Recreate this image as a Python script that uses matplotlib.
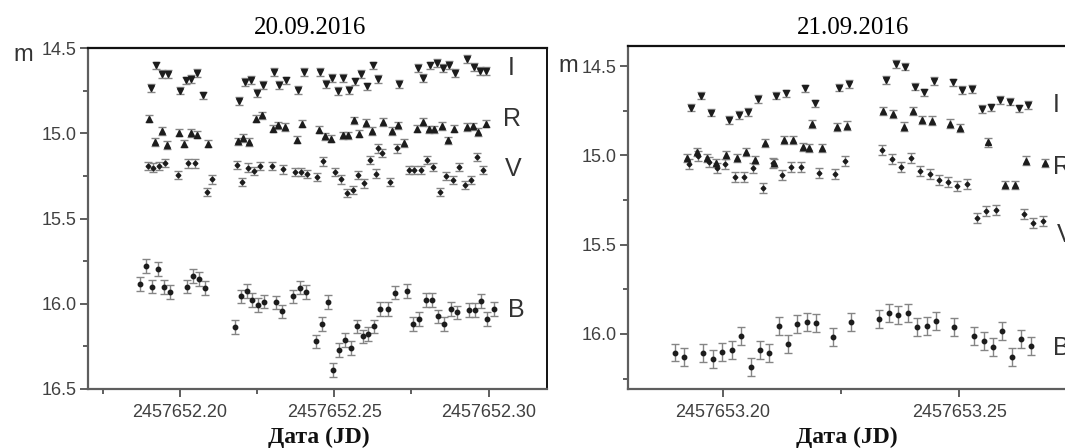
import numpy as np
import matplotlib.pyplot as plt
from matplotlib.ticker import MultipleLocator, FormatStrFormatter

JD1 = 2457652
JD2 = 2457653

# 20.09.2016 (time = JD - 2457652)
d1_I_t = [0.1906, 0.1923, 0.1943, 0.1962, 0.2000, 0.2018, 0.2036, 0.2056, 0.2076, 0.2192,
          0.2211, 0.2229, 0.2249, 0.2269, 0.2306, 0.2322, 0.2343, 0.2383, 0.2401, 0.2454,
          0.2473, 0.2492, 0.2511, 0.2529, 0.2549, 0.2567, 0.2587, 0.2605, 0.2624, 0.2643,
          0.2711, 0.2770, 0.2788, 0.2810, 0.2832, 0.2851, 0.2873, 0.2891, 0.2931, 0.2953,
          0.2972, 0.2992]
d1_I_m = [14.733, 14.602, 14.651, 14.651, 14.749, 14.690, 14.680, 14.647, 14.778, 14.811,
          14.700, 14.686, 14.764, 14.715, 14.642, 14.719, 14.690, 14.744, 14.642, 14.642,
          14.709, 14.677, 14.753, 14.677, 14.744, 14.696, 14.651, 14.725, 14.602, 14.680,
          14.709, 14.616, 14.674, 14.602, 14.589, 14.618, 14.598, 14.647, 14.563, 14.612,
          14.636, 14.636]

d1_R_t = [0.1901, 0.1920, 0.1941, 0.1957, 0.1997, 0.2014, 0.2035, 0.2054, 0.2092, 0.2187,
          0.2205, 0.2225, 0.2246, 0.2265, 0.2302, 0.2319, 0.2340, 0.2378, 0.2396, 0.2450,
          0.2470, 0.2488, 0.2527, 0.2543, 0.2564, 0.2581, 0.2602, 0.2621, 0.2659, 0.2686,
          0.2705, 0.2726, 0.2767, 0.2786, 0.2807, 0.2824, 0.2848, 0.2867, 0.2888, 0.2929,
          0.2948, 0.2967, 0.2992]
d1_R_m = [14.914, 15.051, 14.987, 15.070, 14.996, 15.060, 14.998, 15.008, 15.060, 15.047,
          15.027, 15.051, 14.914, 14.895, 14.973, 14.953, 14.963, 15.037, 14.943, 14.978,
          15.018, 15.031, 15.012, 15.012, 14.924, 15.002, 14.940, 14.987, 14.934, 14.987,
          14.953, 15.057, 14.973, 14.934, 14.977, 14.977, 14.957, 15.041, 14.973, 14.963,
          14.959, 14.992, 14.943]

d1_V_t = [0.1895, 0.1913, 0.1933, 0.1951, 0.1993, 0.2027, 0.2049, 0.2087, 0.2105, 0.2184,
          0.2202, 0.2221, 0.2241, 0.2259, 0.2297, 0.2335, 0.2373, 0.2392, 0.2411, 0.2445,
          0.2464, 0.2502, 0.2521, 0.2540, 0.2560, 0.2578, 0.2597, 0.2616, 0.2635, 0.2641,
          0.2654, 0.2680, 0.2702, 0.2742, 0.2759, 0.2780, 0.2801, 0.2821, 0.2843, 0.2862,
          0.2884, 0.2904, 0.2924, 0.2943, 0.2963, 0.2983]
d1_V_m = [15.193, 15.201, 15.193, 15.174, 15.246, 15.177, 15.177, 15.343, 15.271, 15.187,
          15.285, 15.201, 15.220, 15.193, 15.193, 15.212, 15.226, 15.226, 15.240, 15.256,
          15.164, 15.226, 15.271, 15.349, 15.333, 15.246, 15.294, 15.158, 15.236, 15.089,
          15.115, 15.285, 15.089, 15.216, 15.216, 15.216, 15.158, 15.197, 15.343, 15.251,
          15.275, 15.197, 15.304, 15.275, 15.139, 15.216]

d1_B_t = [0.1871, 0.1890, 0.1909, 0.1929, 0.1947, 0.1968, 0.2022, 0.2042, 0.2062, 0.2080,
          0.2178, 0.2197, 0.2216, 0.2234, 0.2254, 0.2273, 0.2311, 0.2330, 0.2367, 0.2389,
          0.2407, 0.2441, 0.2459, 0.2479, 0.2497, 0.2515, 0.2535, 0.2553, 0.2573, 0.2592,
          0.2610, 0.2630, 0.2648, 0.2675, 0.2697, 0.2735, 0.2756, 0.2775, 0.2797, 0.2816,
          0.2837, 0.2856, 0.2877, 0.2897, 0.2937, 0.2956, 0.2975, 0.2996, 0.3018]
d1_B_m = [15.885, 15.777, 15.899, 15.797, 15.902, 15.930, 15.899, 15.836, 15.855, 15.908,
          16.137, 15.957, 15.924, 15.977, 16.006, 15.987, 15.992, 16.045, 15.957, 15.905,
          15.931, 16.221, 16.117, 15.990, 16.387, 16.270, 16.211, 16.260, 16.133, 16.192,
          16.178, 16.133, 16.031, 16.031, 15.934, 15.924, 16.119, 16.090, 15.977, 15.977,
          16.074, 16.119, 16.029, 16.051, 16.035, 16.035, 15.982, 16.090, 16.029]

# 21.09.2016 (time = JD - 2457653)
d2_I_t = [0.1934, 0.1954, 0.1975, 0.2014, 0.2034, 0.2053, 0.2074, 0.2113, 0.2134, 0.2174,
          0.2194, 0.2246, 0.2267, 0.2345, 0.2366, 0.2385, 0.2406, 0.2426, 0.2446, 0.2486,
          0.2506, 0.2526, 0.2547, 0.2566, 0.2586, 0.2606, 0.2626, 0.2646]
d2_I_m = [14.733, 14.666, 14.761, 14.802, 14.774, 14.756, 14.685, 14.666, 14.653, 14.625,
          14.709, 14.621, 14.602, 14.578, 14.490, 14.504, 14.616, 14.647, 14.584, 14.591,
          14.634, 14.629, 14.742, 14.731, 14.690, 14.700, 14.737, 14.718]

d2_R_t = [0.1925, 0.1946, 0.1966, 0.1986, 0.2008, 0.2030, 0.2049, 0.2069, 0.2089, 0.2109,
          0.2130, 0.2149, 0.2169, 0.2183, 0.2188, 0.2209, 0.2241, 0.2262, 0.2339, 0.2360,
          0.2382, 0.2402, 0.2422, 0.2442, 0.2481, 0.2501, 0.2561, 0.2596, 0.2618, 0.2640,
          0.2681]
d2_R_m = [15.017, 14.983, 15.017, 15.044, 14.998, 15.017, 14.983, 15.026, 14.933, 15.044,
          14.914, 14.914, 14.952, 14.961, 14.825, 14.961, 14.840, 14.833, 14.752, 14.769,
          14.839, 14.752, 14.802, 14.805, 14.822, 14.849, 14.928, 15.166, 15.166, 15.029,
          15.043]

d2_V_t = [0.1929, 0.1948, 0.1970, 0.1989, 0.2005, 0.2026, 0.2045, 0.2065, 0.2085, 0.2107,
          0.2125, 0.2144, 0.2165, 0.2204, 0.2237, 0.2258, 0.2337, 0.2357, 0.2377, 0.2397,
          0.2417, 0.2437, 0.2456, 0.2477, 0.2496, 0.2516, 0.2537, 0.2556, 0.2577, 0.2637,
          0.2656, 0.2676]
d2_V_m = [15.050, 15.002, 15.036, 15.072, 15.050, 15.119, 15.119, 15.072, 15.184, 15.044,
          15.110, 15.064, 15.064, 15.100, 15.104, 15.034, 14.970, 15.020, 15.064, 15.015,
          15.088, 15.102, 15.138, 15.149, 15.174, 15.158, 15.352, 15.311, 15.306, 15.330,
          15.379, 15.370]

d2_B_t = [0.1899, 0.1919, 0.1959, 0.1979, 0.1999, 0.2019, 0.2039, 0.2059, 0.2079, 0.2098,
          0.2119, 0.2139, 0.2158, 0.2178, 0.2197, 0.2232, 0.2271, 0.2331, 0.2351, 0.2371,
          0.2391, 0.2411, 0.2431, 0.2451, 0.2489, 0.2531, 0.2551, 0.2570, 0.2591, 0.2611,
          0.2630, 0.2651]
d2_B_m = [16.104, 16.127, 16.108, 16.141, 16.099, 16.089, 16.011, 16.183, 16.089, 16.108,
          15.953, 16.057, 15.944, 15.931, 15.937, 16.015, 15.934, 15.916, 15.884, 15.893,
          15.884, 15.959, 15.953, 15.927, 15.962, 16.009, 16.039, 16.074, 15.983, 16.130,
          16.029, 16.067]

# typical photometric errors per band
d1_err = {'I': 0.023, 'R': 0.022, 'V': 0.025, 'B': 0.04}
d2_err = {'I': 0.021, 'R': 0.023, 'V': 0.028, 'B': 0.05}

markers = {'I': ('v', 3.8), 'R': ('^', 3.8), 'V': ('D', 2.4), 'B': ('o', 3.2)}

SANS = 'Liberation Sans'
SERIF = 'Liberation Serif'
GRAY = '#5e5e5e'

fig = plt.figure(figsize=(10.65, 4.48), dpi=100)


def draw_band(ax, jd0, t, m, band, err):
    x = jd0 + np.array(t)
    y = np.array(m)
    ax.errorbar(x, y, yerr=err, fmt='none', ecolor='#858585', elinewidth=1.0,
                capsize=2.6, capthick=1.0, zorder=2)
    mk, ms = markers[band]
    ax.plot(x, y, ls='none', marker=mk, ms=ms, color='#1c1c1c', zorder=3)


def style_axes(ax, right_spine):
    for s in ['left', 'bottom']:
        ax.spines[s].set_color(GRAY)
        ax.spines[s].set_linewidth(1.6)
    ax.spines['top'].set_color('#111111')
    ax.spines['top'].set_linewidth(1.6)
    ax.spines['right'].set_visible(right_spine)
    ax.spines['right'].set_color('#111111')
    ax.spines['right'].set_linewidth(1.4)
    ax.tick_params(which='both', direction='out', color=GRAY, width=1.4,
                   top=False, right=False, labelcolor='#404040', labelsize=13)
    ax.tick_params(which='major', length=6)
    ax.tick_params(which='minor', length=3.5)
    ax.tick_params(axis='x', pad=5)
    ax.tick_params(axis='y', pad=2)
    ax.yaxis.set_major_locator(MultipleLocator(0.5))
    ax.yaxis.set_minor_locator(MultipleLocator(0.25))
    ax.yaxis.set_major_formatter(FormatStrFormatter('%.1f'))
    ax.xaxis.set_major_locator(MultipleLocator(0.05))
    ax.xaxis.set_minor_locator(MultipleLocator(0.025))
    ax.xaxis.set_major_formatter(FormatStrFormatter('%.2f'))


# left panel
ax1 = fig.add_axes([0.0826, 0.1317, 0.431, 0.761])
draw_band(ax1, JD1, d1_I_t, d1_I_m, 'I', d1_err['I'])
draw_band(ax1, JD1, d1_R_t, d1_R_m, 'R', d1_err['R'])
draw_band(ax1, JD1, d1_V_t, d1_V_m, 'V', d1_err['V'])
draw_band(ax1, JD1, d1_B_t, d1_B_m, 'B', d1_err['B'])
ax1.set_xlim(JD1 + 0.1702, JD1 + 0.3189)
ax1.set_ylim(16.5, 14.5)
style_axes(ax1, True)

# right panel (runs past the right edge of the image)
ax2 = fig.add_axes([0.5897, 0.1317, 0.4338, 0.7656])
draw_band(ax2, JD2, d2_I_t, d2_I_m, 'I', d2_err['I'])
draw_band(ax2, JD2, d2_R_t, d2_R_m, 'R', d2_err['R'])
draw_band(ax2, JD2, d2_V_t, d2_V_m, 'V', d2_err['V'])
draw_band(ax2, JD2, d2_B_t, d2_B_m, 'B', d2_err['B'])
ax2.set_xlim(JD2 + 0.1800, JD2 + 0.2776)
ax2.set_ylim(16.308, 14.388)
style_axes(ax2, False)

for ax in (ax1, ax2):
    for lab in ax.get_xticklabels() + ax.get_yticklabels():
        lab.set_family(SANS)

# band labels
band_kw = dict(fontsize=18, color='#333333', family=SANS, va='center', ha='left')
for band, xf, yf in [('I', 0.915, 0.941), ('R', 0.904, 0.792),
                     ('V', 0.909, 0.645), ('B', 0.915, 0.232)]:
    ax1.text(xf, yf, band, transform=ax1.transAxes, **band_kw)
for band, xf, yf in [('I', 0.920, 0.828), ('R', 0.920, 0.647),
                     ('V', 0.929, 0.449), ('B', 0.920, 0.120)]:
    ax2.text(xf, yf, band, transform=ax2.transAxes, clip_on=False, **band_kw)

# titles, axis labels
fig.text(310 / 1065, 1 - 27.5 / 448, '20.09.2016', family=SERIF, fontsize=18,
         ha='center', va='center', color='black')
fig.text(853 / 1065, 1 - 27.5 / 448, '21.09.2016', family=SERIF, fontsize=18,
         ha='center', va='center', color='black')
fig.text(319 / 1065, 1 - 437 / 448, 'Дата (JD)', family=SERIF, fontsize=17,
         fontweight='bold', ha='center', va='center', color='#111111')
fig.text(847 / 1065, 1 - 437 / 448, 'Дата (JD)', family=SERIF, fontsize=17,
         fontweight='bold', ha='center', va='center', color='#111111')
fig.text(23 / 1065, 1 - 55 / 448, 'm', family=SANS, fontsize=17,
         ha='center', va='center', color='#333333')
fig.text(568 / 1065, 1 - 66 / 448, 'm', family=SANS, fontsize=17,
         ha='center', va='center', color='#333333')

fig.savefig('out.png', dpi=100)
